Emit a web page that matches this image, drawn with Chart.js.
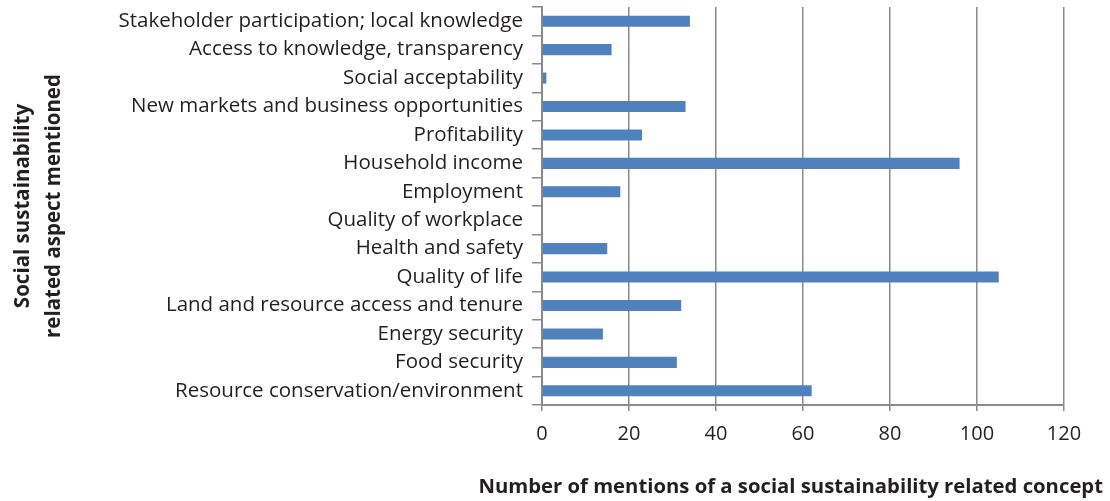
<!DOCTYPE html>
<html>
<head>
<meta charset="utf-8">
<script src="https://cdn.jsdelivr.net/npm/chart.js@4"></script>
<style>
  html, body { margin: 0; padding: 0; background: #fff; }
  #wrap { width: 1110px; height: 501px; position: relative; }
</style>
</head>
<body>
<div id="wrap"><canvas id="Chart"></canvas></div>
<script>
// aspects, top to bottom
const aspects = [
  "Stakeholder participation; local knowledge",
  "Access to knowledge, transparency",
  "Social acceptability",
  "New markets and business opportunities",
  "Profitability",
  "Household income",
  "Employment",
  "Quality of workplace",
  "Health and safety",
  "Quality of life",
  "Land and resource access and tenure",
  "Energy security",
  "Food security",
  "Resource conservation/environment"
];
const mentions = [34, 16, 1, 33, 23, 96, 18, 0, 15, 105, 32, 14, 31, 62];
const xTicks = [0, 20, 40, 60, 80, 100, 120];

const yTitle = ["Social sustainability", "related aspect mentioned"];
const xTitle = "Number of mentions of a social sustainability related concept";

const ink = "#231f20";
const gridGray = "#8a8a8a";
const fontFamily = "'Open Sans', sans-serif";

// x axis title sits off-centre, so draw it by hand
const xTitlePlugin = {
  id: 'xTitle',
  afterDraw(chart) {
    const ctx = chart.ctx;
    ctx.save();
    ctx.font = "bold 20.3px " + fontFamily;
    ctx.fillStyle = ink;
    ctx.textAlign = 'right';
    ctx.textBaseline = 'middle';
    ctx.fillText(xTitle, 1103, 487);
    ctx.restore();
  }
};

var ctx = document.getElementById("Chart").getContext("2d");

var myChart = new Chart(ctx, {
  type: 'bar',
  data: {
    labels: aspects,
    datasets: [{
      label: 'Mentions',
      data: mentions,
      backgroundColor: '#4f81bd',
      barPercentage: 0.39,
      categoryPercentage: 1
    }]
  },
  options: {
    indexAxis: 'y',
    responsive: true,
    maintainAspectRatio: false,
    animation: false,
    layout: {
      padding: { top: 7, right: 46, bottom: 0, left: 0 }
    },
    plugins: {
      legend: { display: false },
      tooltip: { enabled: false }
    },
    scales: {
      x: {
        min: 0,
        max: 120,
        afterBuildTicks: (scale) => {
          scale.ticks = xTicks.map(v => ({ value: v }));
        },
        afterFit: (scale) => { scale.height = 96; },
        grid: {
          color: gridGray,
          lineWidth: 1.5,
          tickLength: 6,
          drawTicks: true
        },
        border: { color: gridGray, width: 2 },
        ticks: {
          color: ink,
          padding: 11,
          font: { family: fontFamily, size: 20 }
        }
      },
      y: {
        afterFit: (scale) => {
          scale.width = 542;
          // no extra room above/below for the first and last label
          scale.paddingTop = 0;
          scale.paddingBottom = 0;
        },
        grid: {
          drawOnChartArea: false,
          color: gridGray,
          lineWidth: 1.5,
          tickLength: 10,
          offset: true
        },
        border: { color: gridGray, width: 2 },
        ticks: {
          color: ink,
          padding: 9,
          autoSkip: false,
          font: { family: fontFamily, size: 20.5 }
        },
        title: {
          display: true,
          text: yTitle,
          color: ink,
          padding: { top: 8, bottom: 0 },
          font: { family: fontFamily, size: 20.5, weight: 'bold', lineHeight: 1.5 }
        }
      }
    }
  },
  plugins: [xTitlePlugin]
});
</script>
</body>
</html>
